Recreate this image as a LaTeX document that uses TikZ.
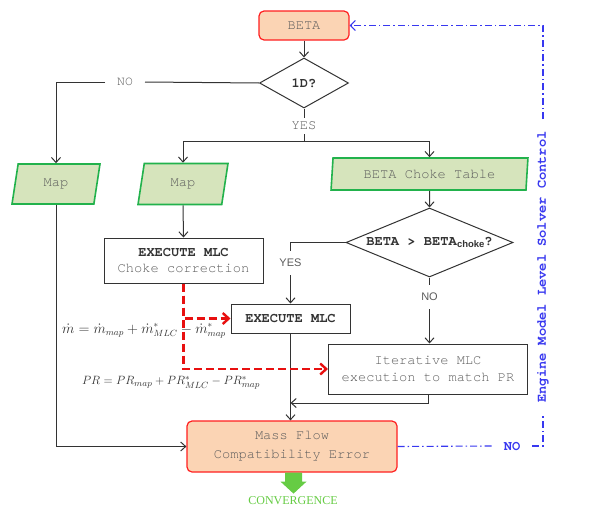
\documentclass[tikz,border=0pt]{standalone}
\usepackage{fontspec}
\setmainfont{Liberation Serif}
\setsansfont{Liberation Sans}
\setmonofont{texgyrecursor}[Extension=.otf,UprightFont=*-regular,BoldFont=*-bold]
\usetikzlibrary{shapes.geometric,arrows.meta}
\definecolor{peach}{HTML}{FBD4B4}
\definecolor{termred}{HTML}{FF2020}
\definecolor{iogreen}{HTML}{22B24C}
\definecolor{iofill}{HTML}{D6E4BC}
\definecolor{ink}{HTML}{333333}
\definecolor{txtgray}{HTML}{5C5C5C}
\definecolor{ctrlblue}{HTML}{3838F0}
\definecolor{convgreen}{HTML}{66CC44}
\definecolor{dashred}{HTML}{E81010}
\begin{document}
\begin{tikzpicture}[x=1pt,y=-1pt,
  every node/.style={inner sep=0pt, font=\fontsize{13.7}{15}\selectfont\ttfamily, text=txtgray},
  term/.style={draw=termred, fill=peach, rounded corners=5pt, line width=1.2pt, align=center},
  io/.style={trapezium, trapezium stretches=true, draw=iogreen, fill=iofill, line width=1.6pt},
  proc/.style={draw=ink, line width=1pt, align=center},
  dec/.style={diamond, draw=ink, line width=1pt, text=ink, font=\fontsize{13.7}{15}\selectfont\ttfamily\bfseries},
  lbl/.style={fill=white, inner xsep=1pt},
  slbl/.style={fill=white, inner xsep=1pt, font=\fontsize{11}{13}\selectfont\sffamily},
  arr/.style={draw=ink, line width=1pt, -{Straight Barb[length=5pt,width=9pt]}},
  ln/.style={draw=ink, line width=1pt},
  reddash/.style={draw=dashred, line width=2.4pt, dash pattern=on 8pt off 4pt, -{Straight Barb[length=6pt,width=11pt]}},
  ctrl/.style={draw=ctrlblue, line width=1.1pt, dash pattern=on 7pt off 3pt on 1.5pt off 3pt}
]
\path[fill=white] (0,0) rectangle (596,514);
\useasboundingbox (0,0) rectangle (596,514);

% nodes
\node[term, minimum width=90pt, minimum height=29pt] (beta) at (304,25.5) {BETA};
\node[dec, aspect=1.78, minimum width=89pt, minimum height=50pt] (d1) at (304,83) {1D?};
\node[lbl, inner xsep=12pt] (no1) at (125,82) {\fontsize{13}{15}\selectfont NO};
\node[lbl, inner ysep=4pt] (yes1) at (304,126) {YES};
\coordinate (j1) at (304,141);

\node[io, trapezium left angle=79, trapezium right angle=101, minimum width=88pt, minimum height=40pt] (map1) at (56,184) {Map};
\node[io, trapezium left angle=79, trapezium right angle=101, minimum width=90pt, minimum height=41pt] (map2) at (183,184) {Map};
\node[io, trapezium left angle=81, trapezium right angle=99, minimum width=197pt, minimum height=32pt] (table) at (429.5,174) {BETA Choke Table};

\node[dec, aspect=2.42, minimum width=167pt, minimum height=69pt] (d2) at (429.5,242.5) {BETA > BETA\textsf{\fontsize{9.5}{10}\selectfont\raisebox{-2.5pt}{choke}}?};

\node[proc, minimum width=159pt, minimum height=45pt] (cc) at (183.5,260.5) {{\bfseries\color{ink}EXECUTE MLC}\\[1pt]Choke correction};
\node[slbl, inner ysep=8pt] (yes2) at (290.5,263) {YES};
\node[proc, minimum width=119pt, minimum height=29pt, text=ink, font=\fontsize{13.7}{15}\selectfont\ttfamily\bfseries] (exec) at (290.5,318.5) {EXECUTE MLC};
\node[slbl, inner ysep=8pt] (no2) at (429.5,297) {NO};
\node[proc, minimum width=199pt, minimum height=50pt] (iter) at (428,369) {Iterative MLC\\[2pt]execution to match PR};
\coordinate (m1) at (290.5,403);

\node[term, minimum width=210pt, minimum height=51pt] (mass) at (292,446.5) {Mass Flow\\[4pt]Compatibility Error};

\node[text=ink, font=\fontsize{13.4}{16}\selectfont] (eq1) at (144,331) {$\dot{m} = \dot{m}_{map} + \dot{m}^{*}_{MLC} - \dot{m}^{*}_{map}$};
\node[text=ink, font=\fontsize{12.4}{16}\selectfont] (eq2) at (171,383) {$PR = PR_{map} + PR^{*}_{MLC} - PR^{*}_{map}$};

\node[text=convgreen, font=\fontsize{12}{14}\selectfont\rmfamily] (conv) at (293,501) {CONVERGENCE};

\node[text=ctrlblue, font=\fontsize{13.7}{15}\selectfont\ttfamily\bfseries, fill=white, inner xsep=12pt] (noB) at (512,446) {NO};
\node[text=ctrlblue, font=\fontsize{13.7}{15}\selectfont\ttfamily\bfseries, rotate=90, inner xsep=12pt] (ctrlT) at (543,267) {Engine Model Level Solver Control};

% connectors
\draw[arr] (beta) -- (d1);
\draw[ln] (d1.west) -- (no1.east);
\draw[arr] (no1.west) -| (map1.north);
\draw[ln] (d1.south) -- (yes1.north);
\draw[ln] (yes1.south) -- (j1);
\draw[arr] (j1) -| (map2.north);
\draw[arr] (j1) -| (table.north);
\draw[arr] (table.south) -- (d2.north);
\draw[arr] (map2.south) -- (cc.north);
\draw[ln] (d2.west) -| (yes2.north);
\draw[arr] (yes2.south) -- (exec.north);
\draw[ln] (d2.south) -- (no2.north);
\draw[arr] (no2.south) -- (no2.south |- iter.north);
\draw[arr] (exec.south) -- (exec.south |- mass.north);
\draw[arr] (iter.south) |- (m1);
\draw[arr] (map1.south) |- (mass.west);
\draw[reddash] (cc.south) |- (exec.west);
\draw[reddash] (cc.south) |- (iter.west);

\fill[convgreen] ([xshift=1.5pt]mass.south) ++(-8.5,0) -- ++(0,9) -- ++(-4.5,0) -- ++(13,12) -- ++(13,-12) -- ++(-4.5,0) -- ++(0,-9) -- cycle;

\draw[ctrl] (mass.east) -- (noB.west);
\draw[ctrl] (noB.east) -| (ctrlT.west);
\draw[ctrl, -{Straight Barb[length=5pt,width=10pt]}] (ctrlT.east) |- (beta.east);
\end{tikzpicture}
\end{document}
